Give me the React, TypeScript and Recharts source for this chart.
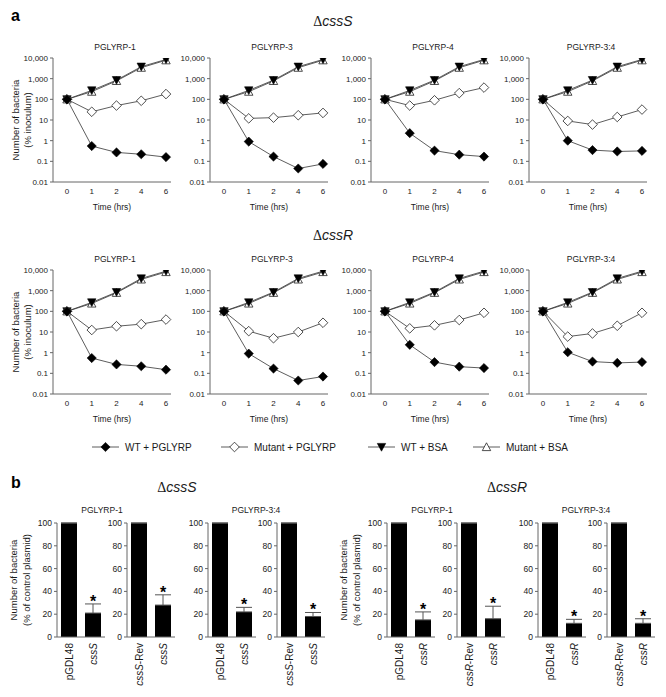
import React from 'react';
import { LineChart, Line, XAxis, YAxis, BarChart, Bar, ErrorBar, ReferenceDot, Label } from 'recharts';

const FONT = '"Liberation Sans", Arial, Helvetica, sans-serif';
const INK = '#1a1a1a';
const AXIS = '#666';
const LINE = '#333';

// panel a: time course, % of inoculum (log scale)
const timePoints = ['0', '1', '2', '4', '6'];
const logTicks = [0.01, 0.1, 1, 10, 100, 1000, 10000];
const growthTitles = ['PGLYRP-1', 'PGLYRP-3', 'PGLYRP-4', 'PGLYRP-3:4'];

// ΔcssS
const sWtPglyrp1 = [100, 0.55, 0.27, 0.22, 0.16];
const sMutPglyrp1 = [100, 25, 50, 85, 180];
const sWtPglyrp3 = [100, 0.9, 0.17, 0.045, 0.075];
const sMutPglyrp3 = [100, 12, 13, 17, 22];
const sWtPglyrp4 = [100, 2.3, 0.33, 0.21, 0.17];
const sMutPglyrp4 = [100, 50, 90, 200, 370];
const sWtPglyrp34 = [100, 1.0, 0.35, 0.3, 0.32];
const sMutPglyrp34 = [100, 9, 6, 14, 32];
const sWtBsa = [100, 270, 850, 3800, 8500];
const sMutBsa = [100, 235, 780, 3400, 7800];

// ΔcssR
const rWtPglyrp1 = [100, 0.55, 0.27, 0.22, 0.15];
const rMutPglyrp1 = [100, 12.5, 19, 24, 40];
const rWtPglyrp3 = [100, 0.9, 0.17, 0.045, 0.07];
const rMutPglyrp3 = [100, 11, 5, 10, 28];
const rWtPglyrp4 = [100, 2.4, 0.35, 0.21, 0.18];
const rMutPglyrp4 = [100, 15, 21, 38, 85];
const rWtPglyrp34 = [100, 1.05, 0.37, 0.32, 0.35];
const rMutPglyrp34 = [100, 6, 8.5, 20, 85];
const rWtBsa = [100, 270, 850, 3900, 8800];
const rMutBsa = [100, 240, 790, 3500, 8000];

// panel b: % of control plasmid
const barTicks = [0, 20, 40, 60, 80, 100];
const ctrlCssS = ['pGDL48', 'cssS'];
const revCssS = ['cssS-Rev', 'cssS'];
const ctrlCssR = ['pGDL48', 'cssR'];
const revCssR = ['cssR-Rev', 'cssR'];
const sP1Ctrl = [100, 21];
const sP1CtrlErr = [0, 8];
const sP1Rev = [100, 28];
const sP1RevErr = [0, 9];
const sP34Ctrl = [100, 22];
const sP34CtrlErr = [0, 4];
const sP34Rev = [100, 18];
const sP34RevErr = [0, 3.5];
const rP1Ctrl = [100, 15];
const rP1CtrlErr = [0, 7];
const rP1Rev = [100, 16];
const rP1RevErr = [0, 11];
const rP34Ctrl = [100, 12];
const rP34CtrlErr = [0, 3.5];
const rP34Rev = [100, 12];
const rP34RevErr = [0, 4];

const fmtLog = (v: number) => (v >= 1000 ? v.toLocaleString('en-US') : String(v));

const FilledDiamond = ({ cx, cy }: any) => {
  const r = 4.6;
  return <polygon points={`${cx},${cy - r} ${cx + r},${cy} ${cx},${cy + r} ${cx - r},${cy}`} fill="#000" stroke="#000" strokeWidth={0.6} />;
};
const OpenDiamond = ({ cx, cy }: any) => {
  const r = 4.8;
  return <polygon points={`${cx},${cy - r} ${cx + r},${cy} ${cx},${cy + r} ${cx - r},${cy}`} fill="#fff" stroke="#222" strokeWidth={0.8} />;
};
const TriDown = ({ cx, cy }: any) => (
  <polygon points={`${cx - 4.2},${cy - 3.6} ${cx + 4.2},${cy - 3.6} ${cx},${cy + 4.2}`} fill="#000" stroke="#000" strokeWidth={0.6} />
);
const TriUp = ({ cx, cy }: any) => (
  <polygon points={`${cx - 4.2},${cy + 3.6} ${cx + 4.2},${cy + 3.6} ${cx},${cy - 4.2}`} fill="#fff" stroke="#222" strokeWidth={0.8} />
);

const axisTick = { fontSize: 8, fill: INK, fontFamily: FONT };

function GrowthChart({ x, y, wt, mut, wtBsa, mutBsa }: any) {
  const data = timePoints.map((t, i) => ({ t, wt: wt[i], mut: mut[i], wtBsa: wtBsa[i], mutBsa: mutBsa[i] }));
  return (
    <div style={{ position: 'absolute', left: x - 45, top: y - 6 }}>
      <LineChart width={167} height={166} data={data} margin={{ top: 6, right: 4, left: 0, bottom: 6 }}>
        <XAxis
          dataKey="t"
          padding={{ left: 14, right: 5 }}
          tickLine={false}
          axisLine={{ stroke: AXIS }}
          tick={axisTick}
          tickSize={4}
          tickMargin={2}
          interval={0}
          height={30}
        >
          <Label value="Time (hrs)" position="insideBottom" offset={2} style={{ fontSize: 8.5, fill: INK, fontFamily: FONT }} />
        </XAxis>
        <YAxis
          type="number"
          scale="log"
          domain={[0.01, 10000]}
          ticks={logTicks}
          allowDataOverflow
          interval={0}
          width={45}
          tickSize={3}
          tickMargin={2}
          axisLine={{ stroke: AXIS }}
          tickLine={{ stroke: AXIS }}
          tick={axisTick}
          tickFormatter={fmtLog}
        />
        <Line dataKey="mutBsa" stroke={LINE} strokeWidth={0.8} isAnimationActive={false} dot={(p: any) => <TriUp key={p.index} cx={p.cx} cy={p.cy} />} />
        <Line dataKey="wtBsa" stroke={LINE} strokeWidth={0.8} isAnimationActive={false} dot={(p: any) => <TriDown key={p.index} cx={p.cx} cy={p.cy} />} />
        <Line dataKey="mut" stroke={LINE} strokeWidth={0.8} isAnimationActive={false} dot={(p: any) => <OpenDiamond key={p.index} cx={p.cx} cy={p.cy} />} />
        <Line dataKey="wt" stroke={LINE} strokeWidth={0.8} isAnimationActive={false} dot={(p: any) => <FilledDiamond key={p.index} cx={p.cx} cy={p.cy} />} />
      </LineChart>
    </div>
  );
}

const BarTick = ({ x, y, payload }: any) => {
  const v = String(payload.value);
  const m = v.match(/^(css[SR])(.*)$/);
  return (
    <text transform={`translate(${x + 3.5},${y}) rotate(-90)`} textAnchor="end" fontSize={10} fontFamily={FONT} fill={INK}>
      {m ? (
        <>
          <tspan fontStyle="italic">{m[1]}</tspan>
          <tspan>{m[2]}</tspan>
        </>
      ) : (
        v
      )}
    </text>
  );
};

function RescueChart({ x, labels, values, errs }: any) {
  const data = labels.map((label: string, i: number) => ({ label, value: values[i], err: [0, errs[i]] }));
  return (
    <div style={{ position: 'absolute', left: x - 24, top: 513 }}>
      <BarChart width={74} height={174} data={data} margin={{ top: 10, right: 2, left: 0, bottom: 0 }} barCategoryGap={4}>
        <XAxis dataKey="label" tickLine={false} axisLine={{ stroke: AXIS }} tick={<BarTick />} tickSize={4} tickMargin={2} interval={0} height={50} />
        <YAxis
          type="number"
          domain={[0, 100]}
          ticks={barTicks}
          interval={0}
          width={24}
          tickSize={3}
          tickMargin={2}
          axisLine={{ stroke: AXIS }}
          tickLine={{ stroke: AXIS }}
          tick={{ fontSize: 8.5, fill: INK, fontFamily: FONT }}
        />
        <Bar dataKey="value" fill="#000" isAnimationActive={false}>
          <ErrorBar dataKey="err" width={8} strokeWidth={1} stroke="#555" direction="y" />
        </Bar>
        <ReferenceDot
          x={labels[1]}
          y={values[1] + errs[1]}
          r={0}
          shape={(p: any) => (
            <text x={p.cx} y={p.cy + 3} textAnchor="middle" fontSize={16} fontWeight="bold" fontFamily={FONT} fill="#000">
              *
            </text>
          )}
        />
      </BarChart>
    </div>
  );
}

const LegendItem = ({ x, label, Marker }: any) => (
  <g>
    <line x1={x} x2={x + 27} y1={447} y2={447} stroke={LINE} strokeWidth={0.8} />
    <Marker cx={x + 13.5} cy={447} />
    <text x={x + 33} y={450.5} fontSize={10} fontFamily={FONT} fill={INK}>
      {label}
    </text>
  </g>
);

const Head = ({ x, y, gene }: any) => (
  <text x={x} y={y} textAnchor="middle" fontSize={14} fontFamily={FONT} fill={INK}>
    <tspan fontFamily="'Liberation Serif', serif">Δ</tspan>
    <tspan fontStyle="italic">{gene}</tspan>
  </text>
);

const RotLabel = ({ x, y, lines }: any) => (
  <g>
    {lines.map((l: string, i: number) => (
      <text key={l} transform={`translate(${x + i * 12.5},${y}) rotate(-90)`} textAnchor="middle" fontSize={9.5} fontFamily={FONT} fill={INK}>
        {l}
      </text>
    ))}
  </g>
);

const Title = ({ x, y, text }: any) => (
  <text x={x} y={y} textAnchor="middle" fontSize={8.5} fontFamily={FONT} fill={INK}>
    {text}
  </text>
);

const growthX = [53, 210, 371, 529];
const rowTop = [58, 270];
const barX = [57, 127, 208, 277, 387, 457, 538, 607];

export default function App() {
  const rowS = [
    [sWtPglyrp1, sMutPglyrp1],
    [sWtPglyrp3, sMutPglyrp3],
    [sWtPglyrp4, sMutPglyrp4],
    [sWtPglyrp34, sMutPglyrp34],
  ];
  const rowR = [
    [rWtPglyrp1, rMutPglyrp1],
    [rWtPglyrp3, rMutPglyrp3],
    [rWtPglyrp4, rMutPglyrp4],
    [rWtPglyrp34, rMutPglyrp34],
  ];
  const bars = [
    [ctrlCssS, sP1Ctrl, sP1CtrlErr],
    [revCssS, sP1Rev, sP1RevErr],
    [ctrlCssS, sP34Ctrl, sP34CtrlErr],
    [revCssS, sP34Rev, sP34RevErr],
    [ctrlCssR, rP1Ctrl, rP1CtrlErr],
    [revCssR, rP1Rev, rP1RevErr],
    [ctrlCssR, rP34Ctrl, rP34CtrlErr],
    [revCssR, rP34Rev, rP34RevErr],
  ];
  return (
    <div style={{ position: 'absolute', left: 0, top: 0, width: 666, height: 697, background: '#fff', fontFamily: FONT }}>
      {rowS.map(([wt, mut], i) => (
        <GrowthChart key={'s' + i} x={growthX[i]} y={rowTop[0]} wt={wt} mut={mut} wtBsa={sWtBsa} mutBsa={sMutBsa} />
      ))}
      {rowR.map(([wt, mut], i) => (
        <GrowthChart key={'r' + i} x={growthX[i]} y={rowTop[1]} wt={wt} mut={mut} wtBsa={rWtBsa} mutBsa={rMutBsa} />
      ))}
      {bars.map(([labels, values, errs], i) => (
        <RescueChart key={'b' + i} x={barX[i]} labels={labels} values={values} errs={errs} />
      ))}
      <svg width={666} height={697} style={{ position: 'absolute', left: 0, top: 0, pointerEvents: 'none' }}>
        <text x={11} y={21} fontSize={16} fontWeight="bold" fontFamily={FONT} fill="#000">a</text>
        <text x={11} y={488} fontSize={16} fontWeight="bold" fontFamily={FONT} fill="#000">b</text>
        <Head x={333} y={26} gene="cssS" />
        <Head x={333} y={240} gene="cssR" />
        {growthTitles.map((t, i) => (
          <Title key={'ts' + i} x={growthX[i] + 62} y={50} text={t} />
        ))}
        {growthTitles.map((t, i) => (
          <Title key={'tr' + i} x={growthX[i] + 62} y={262} text={t} />
        ))}
        <RotLabel x={18.5} y={120} lines={['Number of bacteria', '(% inoculum)']} />
        <RotLabel x={18.5} y={332} lines={['Number of bacteria', '(% inoculum)']} />

        <LegendItem x={92} label="WT + PGLYRP" Marker={FilledDiamond} />
        <LegendItem x={221} label="Mutant + PGLYRP" Marker={OpenDiamond} />
        <LegendItem x={368} label="WT + BSA" Marker={TriDown} />
        <LegendItem x={473} label="Mutant + BSA" Marker={TriUp} />

        <Head x={177} y={492} gene="cssS" />
        <Head x={507} y={492} gene="cssR" />
        <Title x={102} y={513} text="PGLYRP-1" />
        <Title x={256} y={513} text="PGLYRP-3:4" />
        <Title x={432} y={513} text="PGLYRP-1" />
        <Title x={586} y={513} text="PGLYRP-3:4" />
        <RotLabel x={17} y={580} lines={['Number of bacteria', '(% of control plasmid)']} />
        <RotLabel x={347} y={580} lines={['Number of bacteria', '(% of control plasmid)']} />
      </svg>
    </div>
  );
}
